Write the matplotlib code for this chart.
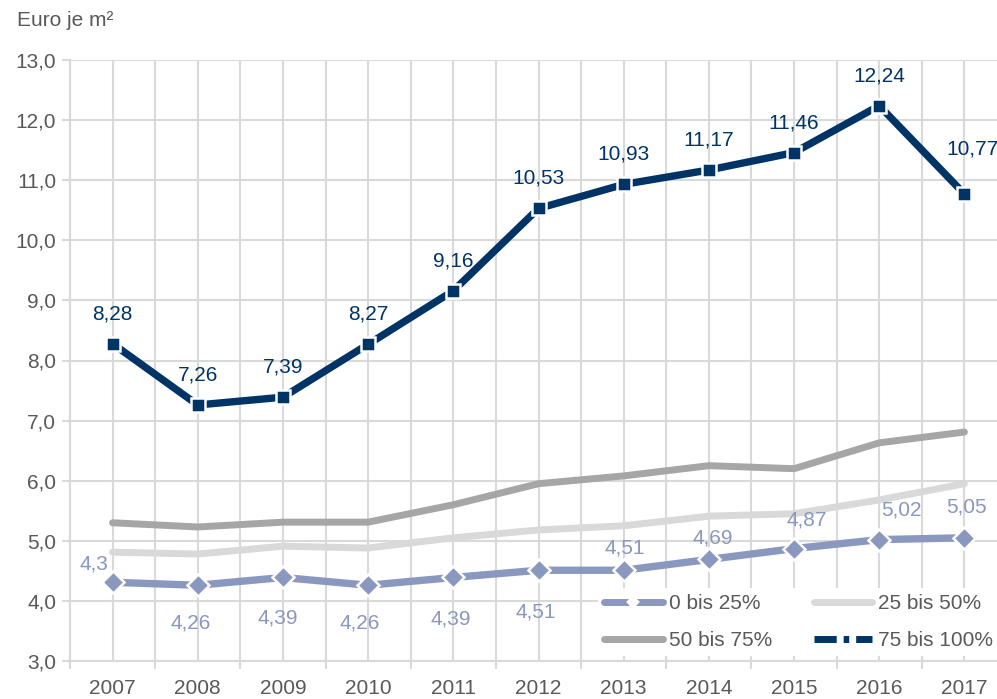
import matplotlib
matplotlib.use("Agg")
import matplotlib.pyplot as plt
from matplotlib.lines import Line2D
from matplotlib.ticker import FixedLocator

plt.rcParams["font.family"] = ["Liberation Sans", "DejaVu Sans"]

# ---------------- data ----------------
years = ["2007", "2008", "2009", "2010", "2011", "2012", "2013", "2014", "2015", "2016", "2017"]
q1 = [4.31, 4.26, 4.39, 4.26, 4.39, 4.51, 4.51, 4.69, 4.87, 5.02, 5.05]      # 0 bis 25%
q2 = [4.81, 4.78, 4.91, 4.88, 5.05, 5.18, 5.25, 5.41, 5.45, 5.68, 5.95]      # 25 bis 50%
q3 = [5.30, 5.23, 5.31, 5.31, 5.60, 5.95, 6.08, 6.25, 6.20, 6.63, 6.81]      # 50 bis 75%
q4 = [8.28, 7.26, 7.39, 8.27, 9.16, 10.53, 10.93, 11.17, 11.46, 12.24, 10.77] # 75 bis 100%
q1_labels = ["4,3", "4,26", "4,39", "4,26", "4,39", "4,51", "4,51", "4,69", "4,87", "5,02", "5,05"]
series_names = ["0 bis 25%", "25 bis 50%", "50 bis 75%", "75 bis 100%"]

# ---------------- style ----------------
C_Q1 = "#8A97BE"
C_Q2 = "#D9D9D9"
C_Q3 = "#A6A6A6"
C_Q4 = "#003366"
GRID = "#D9D9D9"
TXT = "#595959"
FS = 15

# label offsets in pixels (dx, dy)
q1_off = [(-19, 18), (-7, -38), (-5, -41), (-8, -38), (-3, -42), (-3, -42),
          (1, 22), (4, 21), (13, 29), (22, 30), (2, 31)]
q4_off = [(0, 30)] * 10 + [(8, 45)]

fig = plt.figure(figsize=(9.97, 6.99), dpi=100)
ax = fig.add_axes([70 / 997, 38 / 699, 937 / 997, 601 / 699])

x = list(range(len(years)))

ax.plot(x, q2, color=C_Q2, lw=5, solid_capstyle="round", zorder=3)
ax.plot(x, q3, color=C_Q3, lw=5, solid_capstyle="round", zorder=3)
ax.plot(x, q1, color=C_Q1, lw=5.3, marker="D", ms=11, mfc=C_Q1, mec="white", mew=1.8, zorder=4)
ax.plot(x, q4, color=C_Q4, lw=5.3, marker="s", ms=10.5, mfc=C_Q4, mec="white", mew=1.8, zorder=5)

for xi, yi, lab, (dx, dy) in zip(x, q1, q1_labels, q1_off):
    ax.annotate(lab, (xi, yi), xytext=(dx, dy), textcoords="offset pixels",
                ha="center", va="center", fontsize=FS, color=C_Q1, zorder=6)
for xi, yi, (dx, dy) in zip(x, q4, q4_off):
    ax.annotate(f"{yi:.2f}".replace(".", ","), (xi, yi), xytext=(dx, dy), textcoords="offset pixels",
                ha="center", va="center", fontsize=FS, color=C_Q4, zorder=6, annotation_clip=False)

# axes
ax.set_xlim(-0.5, len(years) - 0.5)
ax.set_ylim(3, 13)
ax.set_xticks(x)
ax.set_xticklabels(years)
ax.xaxis.set_minor_locator(FixedLocator([i - 0.5 for i in range(len(years) + 1)]))
ax.set_yticks(range(3, 14))
ax.set_yticklabels([f"{v},0" for v in range(3, 14)])

ax.tick_params(axis="x", which="major", length=0, labelsize=FS, labelcolor=TXT, pad=13)
ax.tick_params(axis="x", which="minor", length=6, width=1.5, color=GRID, direction="out")
ax.tick_params(axis="y", length=6, width=1.5, color=GRID, labelsize=FS, labelcolor=TXT, pad=4)

ax.grid(True, axis="x", which="both", color=GRID, lw=1.5, zorder=0)
ax.grid(True, axis="y", which="major", color=GRID, lw=1.5, zorder=0)
ax.set_axisbelow(True)
for s in ["top", "right"]:
    ax.spines[s].set_visible(False)
for s in ["left", "bottom"]:
    ax.spines[s].set_color(GRID)
    ax.spines[s].set_linewidth(1.5)

fig.text(17 / 997, 1 - 21 / 699, "Euro je m²", fontsize=FS, color=TXT, ha="left", va="center")

# legend
h1 = Line2D([], [], color=C_Q1, lw=5, solid_capstyle="round", marker="D", ms=4,
            mfc="white", mec="white", mew=3)
h2 = Line2D([], [], color=C_Q2, lw=5, solid_capstyle="round")
h3 = Line2D([], [], color=C_Q3, lw=5, solid_capstyle="round")
h4 = Line2D([], [], color=C_Q4, lw=5, dash_capstyle="butt", linestyle=(0, (3.2, 1.0, 0.8, 1.0)))
leg = ax.legend([h1, h3, h2, h4], [series_names[0], series_names[2], series_names[1], series_names[3]],
                ncol=2, loc="upper left", bbox_to_anchor=(598 / 997, 1 - 588 / 699),
                bbox_transform=fig.transFigure, frameon=True, fancybox=False,
                fontsize=FS, handlelength=2.8, handletextpad=0.3, columnspacing=2.0,
                labelspacing=0.85, borderpad=0.3, borderaxespad=0)
leg.get_frame().set_facecolor("white")
leg.get_frame().set_edgecolor("none")
leg.get_frame().set_alpha(1)
for t in leg.get_texts():
    t.set_color(TXT)
leg.set_zorder(10)

fig.savefig("out.png", dpi=100)
